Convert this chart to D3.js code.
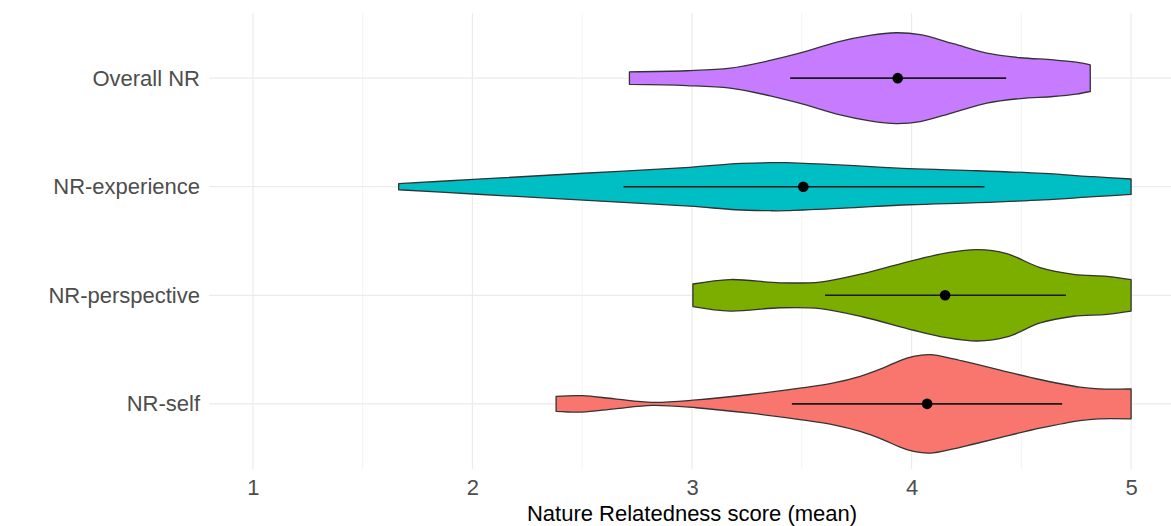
<!DOCTYPE html>
<html>
<head>
<meta charset="utf-8">
<script src="https://cdn.jsdelivr.net/npm/d3@7"></script>
<style>
  html, body { margin: 0; padding: 0; background: #fff; }
  svg { display: block; }
  text { font-family: "Liberation Sans", Arial, sans-serif; }
</style>
</head>
<body>
<svg id="chart" width="1171" height="526"></svg>
<script>
// ---------------- data ----------------
const categories = ["Overall NR", "NR-experience", "NR-perspective", "NR-self"];
const fillColors = ["#C77CFF", "#00BFC4", "#7CAE00", "#F8766D"];
const xTicks = [1, 2, 3, 4, 5];
const xMinorTicks = [1.5, 2.5, 3.5, 4.5];
const xTitle = "Nature Relatedness score (mean)";

// violin outlines: score value and half-width (fraction of category spacing)
const overallScore = [2.715, 2.976, 3.174, 3.356, 3.506, 3.66, 3.81, 3.93, 4.04, 4.19, 4.343, 4.495, 4.645, 4.75, 4.814];
const overallWidth = [0.058, 0.068, 0.092, 0.163, 0.239, 0.331, 0.393, 0.418, 0.400, 0.317, 0.230, 0.188, 0.169, 0.147, 0.123];

const experienceScore = [1.664, 2.004, 2.505, 2.99, 3.2, 3.356, 3.43, 3.69, 3.99, 4.30, 4.60, 4.829, 5.0];
const experienceWidth = [0.028, 0.067, 0.124, 0.179, 0.212, 0.221, 0.221, 0.198, 0.166, 0.147, 0.122, 0.092, 0.071];

const perspectiveScore = [3.004, 3.174, 3.4, 3.584, 3.78, 4.009, 4.16, 4.3, 4.434, 4.586, 4.738, 4.89, 5.0];
const perspectiveWidth = [0.104, 0.145, 0.115, 0.122, 0.200, 0.322, 0.390, 0.421, 0.384, 0.255, 0.193, 0.175, 0.145];

const selfScore = [2.381, 2.499, 2.647, 2.82, 3.02, 3.265, 3.5, 3.645, 3.766, 3.872, 3.948, 4.009, 4.085, 4.19, 4.28, 4.42, 4.59, 4.766, 4.853, 5.0];
const selfWidth = [0.069, 0.076, 0.046, 0.014, 0.036, 0.086, 0.147, 0.193, 0.254, 0.331, 0.399, 0.438, 0.454, 0.415, 0.372, 0.302, 0.222, 0.154, 0.138, 0.138];

// mean and mean +/- sd
const means = [3.937, 3.507, 4.153, 4.071];
const lowers = [3.447, 2.688, 3.606, 3.455];
const uppers = [4.431, 4.332, 4.703, 4.686];

const violinScores = [overallScore, experienceScore, perspectiveScore, selfScore];
const violinWidths = [overallWidth, experienceWidth, perspectiveWidth, selfWidth];

// ---------------- layout ----------------
const svg = d3.select("#chart");
const panel = { left: 209, right: 1175, top: 13, bottom: 469 };

const x = d3.scaleLinear().domain([0.8, 5.2]).range([panel.left, panel.right]);
const y = d3.scalePoint().domain(categories).range([panel.top, panel.bottom]).padding(0.6);
const step = y.step();

// grid
const grid = svg.append("g");
grid.selectAll("line.minor").data(xMinorTicks).join("line")
  .attr("x1", d => x(d)).attr("x2", d => x(d))
  .attr("y1", panel.top).attr("y2", panel.bottom)
  .attr("stroke", "#ebebeb").attr("stroke-width", 0.6);
grid.selectAll("line.majorx").data(xTicks).join("line")
  .attr("x1", d => x(d)).attr("x2", d => x(d))
  .attr("y1", panel.top).attr("y2", panel.bottom)
  .attr("stroke", "#ebebeb").attr("stroke-width", 1.2);
grid.selectAll("line.majory").data(categories).join("line")
  .attr("x1", panel.left).attr("x2", panel.right)
  .attr("y1", d => y(d)).attr("y2", d => y(d))
  .attr("stroke", "#ebebeb").attr("stroke-width", 1.2);

// violins
const marks = svg.append("g");
categories.forEach((cat, i) => {
  const pts = violinScores[i].map((s, j) => ({ s, w: violinWidths[i][j] }));
  const yc = y(cat);
  const area = d3.area()
    .x(d => x(d.s))
    .y0(d => yc - d.w * step)
    .y1(d => yc + d.w * step)
    .curve(d3.curveCatmullRom.alpha(0.5));
  marks.append("path")
    .attr("d", area(pts))
    .attr("fill", fillColors[i])
    .attr("stroke", "#333333")
    .attr("stroke-width", 1.3)
    .attr("stroke-linejoin", "round");
});

// mean +/- sd
categories.forEach((cat, i) => {
  marks.append("line")
    .attr("x1", x(lowers[i])).attr("x2", x(uppers[i]))
    .attr("y1", y(cat)).attr("y2", y(cat))
    .attr("stroke", "#1a1a1a").attr("stroke-width", 1.6);
  marks.append("circle")
    .attr("cx", x(means[i])).attr("cy", y(cat))
    .attr("r", 5.3).attr("fill", "#000");
});

// y axis labels
const yAxis = d3.axisLeft(y).tickSize(0).tickPadding(9);
const yG = svg.append("g").attr("transform", `translate(${panel.left},0)`).call(yAxis);
yG.select(".domain").remove();
yG.selectAll("text")
  .attr("font-size", 22).attr("fill", "#4d4d4d")
  .attr("font-family", "Liberation Sans, Arial, sans-serif");

// x axis labels
const xAxis = d3.axisBottom(x).tickValues(xTicks).tickFormat(d3.format("d")).tickSize(0).tickPadding(10);
const xG = svg.append("g").attr("transform", `translate(0,${panel.bottom})`).call(xAxis);
xG.select(".domain").remove();
xG.selectAll("text")
  .attr("font-size", 22).attr("fill", "#4d4d4d")
  .attr("font-family", "Liberation Sans, Arial, sans-serif");

// x title
svg.append("text")
  .attr("x", (panel.left + panel.right) / 2)
  .attr("y", 521)
  .attr("text-anchor", "middle")
  .attr("font-size", 22)
  .attr("fill", "#000")
  .text(xTitle);
</script>
</body>
</html>
